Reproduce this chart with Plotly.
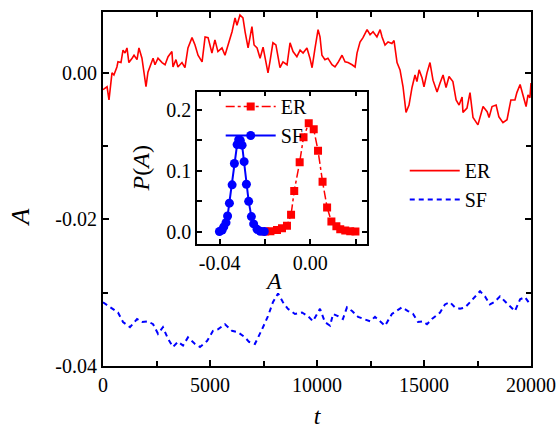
import plotly.graph_objects as go

# ---------------- data ----------------
er_t = [0, 190, 280, 420, 510, 650, 700, 840, 935, 1030, 1120, 1210, 1360, 1450, 1590, 1680, 1820, 1920, 2010,
        2100, 2240, 2340, 2430, 2570, 2760, 2900, 3040, 3220, 3270, 3410, 3500, 3690, 3830, 3970, 4160, 4300,
        4440, 4630, 4770, 4910, 5090, 5230, 5370, 5560, 5700, 5840, 6030, 6170, 6260, 6400, 6540, 6640, 6780,
        6960, 7060, 7200, 7340, 7480, 7620, 7710, 7800, 7940, 8080, 8180, 8270, 8410, 8600, 8740, 8880, 9060,
        9210, 9350, 9530, 9670, 9770, 9910, 10050, 10140, 10230, 10370, 10510, 10700, 10840, 10980, 11170,
        11310, 11450, 11640, 11780, 11870, 12010, 12150, 12340, 12480, 12620, 12800, 12950, 13040, 13180,
        13320, 13500, 13600, 13740, 13880, 14020, 14160, 14300, 14440, 14580, 14670, 14770, 14910, 15000,
        15140, 15280, 15420, 15610, 15750, 15890, 16030, 16170, 16350, 16500, 16640, 16780, 16820, 17010,
        17150, 17290, 17520, 17760, 17950, 18040, 18180, 18370, 18500, 18690, 18880, 19060, 19250, 19340,
        19490, 19630, 19770, 19860, 19950, 20000]
er_a = [-0.0023, -0.0019, -0.0037, 0.0, -0.0003, 0.0008, 0.0015, 0.0014, 0.0031, 0.0027, 0.0034, 0.0014, 0.0020,
        0.0024, 0.0018, 0.0034, 0.0020, 0.0001, -0.0019, 0.0001, 0.0014, 0.0020, 0.0011, 0.0020, 0.0014, 0.0011,
        0.0022, 0.0029, 0.0008, 0.0018, 0.0008, 0.0014, 0.0007, 0.0034, 0.0048, 0.0038, 0.0024, 0.0015, 0.0049,
        0.0048, 0.0027, 0.0045, 0.0029, 0.0034, 0.0024, 0.0038, 0.0056, 0.0075, 0.0065, 0.0079, 0.0075, 0.0056,
        0.0034, 0.0063, 0.0038, 0.0034, 0.0020, 0.0035, 0.0015, 0.0, 0.0015, 0.0041, 0.0038, 0.0024, 0.0007,
        0.0015, 0.0011, 0.0041, 0.0029, 0.0022, 0.0031, 0.0027, 0.0034, 0.0020, 0.0007, 0.0034, 0.0059, 0.0049,
        0.0024, 0.0018, 0.0020, 0.0011, 0.0008, 0.0014, 0.0024, 0.0015, 0.0014, 0.0011, 0.0008, 0.0027, 0.0042,
        0.0048, 0.0059, 0.0052, 0.0056, 0.0049, 0.0059, 0.0049, 0.0038, 0.0042, 0.0040, 0.0044, 0.0014, 0.0004,
        -0.0019, -0.0054, -0.0044, -0.0020, -0.0003, -0.0012, 0.0004, -0.0007, -0.0019, 0.0, 0.0014, -0.0010,
        -0.0026, -0.0014, -0.0003, -0.0020, -0.0005, -0.0012, -0.0037, -0.0044, -0.0033, -0.0054, -0.0048,
        -0.0027, -0.0061, -0.0071, -0.0046, -0.0053, -0.0061, -0.0046, -0.0044, -0.0060, -0.0068, -0.0064,
        -0.0037, -0.0037, -0.0027, -0.0016, -0.0033, -0.0046, -0.0030, -0.0034, -0.0014]

sf_t = [0, 470, 700, 935, 1260, 1590, 1820, 2100, 2340, 2570, 2800, 3040, 3270, 3500, 3740, 3970, 4300, 4530,
        4860, 5140, 5370, 5700, 6030, 6310, 6640, 6820, 7100, 7430, 7710, 7940, 8180, 8410, 8640, 8970, 9300,
        9580, 9810, 10140, 10370, 10610, 10750, 10980, 11210, 11400, 11640, 11920, 12240, 12480, 12710, 12950,
        13180, 13500, 13970, 14250, 14490, 14720, 14950, 15140, 15370, 15750, 15980, 16210, 16450, 16680,
        16920, 17150, 17390, 17620, 17850, 18080, 18320, 18550, 18790, 19020, 19250, 19490, 19720, 19960]
sf_a = [-0.0313, -0.0322, -0.0327, -0.0340, -0.0347, -0.0336, -0.0340, -0.0339, -0.0343, -0.0356, -0.0347,
        -0.0363, -0.0374, -0.0367, -0.0372, -0.0361, -0.0370, -0.0374, -0.0366, -0.0352, -0.0350, -0.0343,
        -0.0352, -0.0354, -0.0361, -0.0367, -0.0370, -0.0350, -0.0332, -0.0313, -0.0301, -0.0313, -0.0322,
        -0.0329, -0.0327, -0.0332, -0.0339, -0.0322, -0.0340, -0.0345, -0.0329, -0.0332, -0.0336, -0.0320,
        -0.0325, -0.0333, -0.0336, -0.0339, -0.0333, -0.0339, -0.0345, -0.0329, -0.0320, -0.0325, -0.0329,
        -0.0340, -0.0339, -0.0343, -0.0336, -0.0327, -0.0316, -0.0313, -0.0320, -0.0322, -0.0320, -0.0313,
        -0.0306, -0.0298, -0.0305, -0.0316, -0.0312, -0.0305, -0.0312, -0.0318, -0.0325, -0.0309, -0.0306,
        -0.0316]

# inset: distributions P(A)
er_hist_a = [-0.0199, -0.0176, -0.0147, -0.0125, -0.0103, -0.0085, -0.0071, -0.0047, -0.0030, -0.0007,
             0.0015, 0.0034, 0.0054, 0.0074, 0.0093, 0.0115, 0.0132, 0.0154, 0.0176, 0.0199]
er_hist_p = [0.0005, 0.001, 0.003, 0.006, 0.010, 0.028, 0.067, 0.114, 0.155, 0.178,
             0.168, 0.133, 0.082, 0.040, 0.017, 0.009, 0.004, 0.002, 0.001, 0.0005]
sf_hist_a = [-0.0401, -0.0389, -0.0382, -0.0372, -0.0365, -0.0357, -0.0345, -0.0335, -0.0323, -0.0316,
             -0.0309, -0.0301, -0.0292, -0.0282, -0.0272, -0.0260, -0.0250, -0.0235, -0.0221, -0.0203]
sf_hist_p = [0.0005, 0.003, 0.008, 0.015, 0.026, 0.047, 0.077, 0.112, 0.143, 0.151,
             0.150, 0.142, 0.115, 0.078, 0.050, 0.025, 0.013, 0.004, 0.001, 0.0005]

main_xticks = [0, 5000, 10000, 15000, 20000]
main_xticktext = ["0", "5000", "10000", "15000", "20000"]
main_yticks = [-0.04, -0.02, 0.00]
main_yticktext = ["-0.04", "-0.02", "0.00"]
inset_xticks = [-0.04, 0.00]
inset_xticktext = ["-0.04", "0.00"]
inset_yticks = [0.0, 0.1, 0.2]
inset_yticktext = ["0.0", "0.1", "0.2"]

RED = "#FF0000"
BLUE = "#0000FF"
FONT = "Liberation Serif, Times New Roman, serif"

fig = go.Figure()
fig.add_trace(go.Scatter(x=er_t, y=er_a, mode="lines", name="ER",
                         line=dict(color=RED, width=1.6), legend="legend"))
fig.add_trace(go.Scatter(x=sf_t, y=sf_a, mode="lines", name="SF",
                         line=dict(color=BLUE, width=2, dash="5px,4px"), legend="legend"))
fig.add_trace(go.Scatter(x=er_hist_a, y=er_hist_p, mode="lines+markers", name="ER",
                         xaxis="x2", yaxis="y2",
                         line=dict(color=RED, width=1.5, dash="dashdot"),
                         marker=dict(symbol="square", size=8, color=RED), legend="legend2"))
fig.add_trace(go.Scatter(x=sf_hist_a, y=sf_hist_p, mode="lines+markers", name="SF",
                         xaxis="x2", yaxis="y2",
                         line=dict(color=BLUE, width=2),
                         marker=dict(symbol="circle", size=9, color=BLUE), legend="legend2"))

axis_common = dict(showgrid=False, zeroline=False, showline=True, linecolor="black",
                   ticks="inside", mirror="ticks", tickcolor="black", automargin=False,
                   tickfont=dict(family=FONT, size=20, color="black"))

fig.update_layout(
    width=557, height=429,
    margin=dict(l=103, r=26, t=12, b=63, autoexpand=False),
    paper_bgcolor="white", plot_bgcolor="white",
    font=dict(family=FONT, size=20, color="black"),
    showlegend=True,
    xaxis=dict(**axis_common, range=[0, 20000], tickvals=main_xticks, ticktext=main_xticktext,
               linewidth=2, ticklen=6, tickwidth=1.5,
               minor=dict(ticks="inside", dtick=2500, ticklen=5, tickcolor="black", tickwidth=1.5),
               title=dict(text="<i>t</i>", font=dict(family=FONT, size=24), standoff=12)),
    yaxis=dict(**axis_common, range=[-0.04, 0.0083], tickvals=main_yticks, ticktext=main_yticktext,
               linewidth=2, ticklen=6, tickwidth=1.5,
               minor=dict(ticks="inside", tickvals=[-0.03, -0.01], ticklen=5, tickcolor="black", tickwidth=1.5)),
    xaxis2=dict(**axis_common, domain=[0.2196, 0.6168], anchor="y2", range=[-0.05, 0.025],
                tickvals=inset_xticks, ticktext=inset_xticktext,
                linewidth=1.5, ticklen=5, tickwidth=1.5,
                minor=dict(ticks="inside", tickvals=[-0.02, 0.02], ticklen=5, tickcolor="black", tickwidth=1.5)),
    yaxis2=dict(**axis_common, domain=[0.3446, 0.7754], anchor="x2", range=[-0.02, 0.23],
                tickvals=inset_yticks, ticktext=inset_yticktext,
                linewidth=1.5, ticklen=5, tickwidth=1.5,
                minor=dict(ticks="inside", tickvals=[0.05, 0.15], ticklen=5, tickcolor="black", tickwidth=1.5),
                title=dict(text="<i>P</i>(<i>A</i>)", font=dict(family=FONT, size=24), standoff=10)),
    legend=dict(x=0.705, y=0.607, xanchor="left", yanchor="top", bgcolor="rgba(0,0,0,0)",
                font=dict(family=FONT, size=20), itemwidth=50, tracegroupgap=0),
    legend2=dict(x=0.275, y=0.788, xanchor="left", yanchor="top", bgcolor="rgba(0,0,0,0)",
                 font=dict(family=FONT, size=20), itemwidth=50, tracegroupgap=0),
    annotations=[
        dict(text="<i>A</i>", xref="paper", yref="paper", x=-0.195, y=0.418,
             textangle=-90, showarrow=False, font=dict(family=FONT, size=26),
             xanchor="center", yanchor="middle"),
        dict(text="<i>A</i>", xref="paper", yref="paper", x=0.3995, y=0.240,
             showarrow=False, font=dict(family=FONT, size=24),
             xanchor="center", yanchor="middle"),
    ],
    hovermode=False,
)

fig.write_html("out.html")
